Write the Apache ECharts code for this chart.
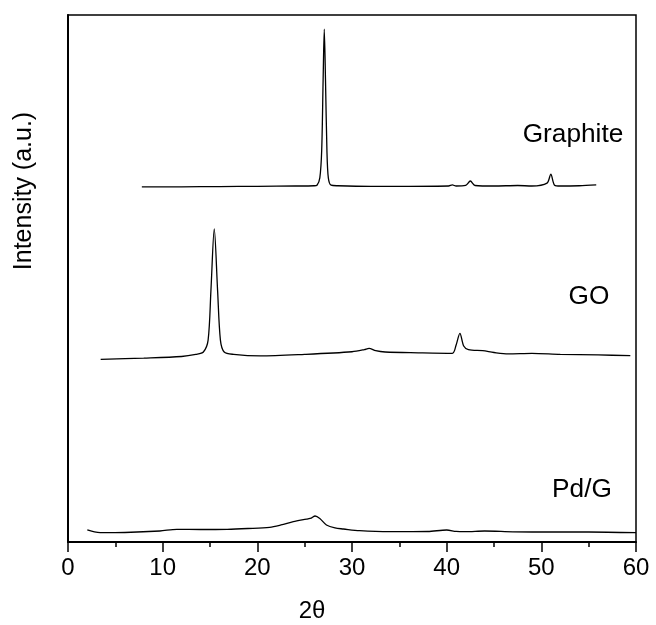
<!DOCTYPE html>
<html>
<head>
<meta charset="utf-8">
<script src="https://cdn.jsdelivr.net/npm/echarts@6/dist/echarts.min.js"></script>
<style>html,body{margin:0;padding:0;background:#fff;}#c{width:656px;height:625px;}</style>
</head>
<body>
<div id="c"></div>
<script>
// X axis ticks
var xTicks = [0, 10, 20, 30, 40, 50, 60];

// Graphite pattern (2θ, relative intensity)
var graphiteX = [7.8, 12, 16, 20, 24, 26.0, 26.3, 26.6, 26.8, 26.95, 27.07, 27.2, 27.35, 27.5, 27.8, 28.5, 32, 36, 40.2, 40.6, 41.0, 42.0, 42.5, 43.0, 45, 47.5, 49, 50.6, 51.0, 51.4, 52, 54, 55.8];
var graphiteY = [67.4, 67.4, 67.45, 67.5, 67.55, 67.6, 67.7, 69.1, 74.4, 87.7, 97.3, 87.7, 74.4, 69.1, 67.7, 67.6, 67.5, 67.5, 67.55, 67.75, 67.55, 67.65, 68.5, 67.65, 67.55, 67.65, 67.55, 68.1, 69.8, 67.7, 67.55, 67.6, 67.75];

// GO pattern
var goX = [3.45, 8, 12, 13.5, 14.3, 14.8, 15.1, 15.45, 15.8, 16.1, 16.5, 17.5, 20.3, 25, 30, 31.3, 31.8, 32.5, 33.5, 37, 40.6, 41.0, 41.4, 41.8, 42.3, 43.8, 45, 46.5, 49, 52, 56, 59.4];
var goY = [34.67, 34.9, 35.2, 35.6, 36.05, 38.3, 47.8, 59.4, 47.8, 38.3, 36.05, 35.6, 35.3, 35.6, 36.1, 36.5, 36.75, 36.3, 36.05, 35.9, 35.8, 37.4, 39.6, 37.2, 36.5, 36.3, 35.96, 35.7, 35.8, 35.6, 35.5, 35.35];

// Pd/G pattern
var pdgX = [2.04, 2.8, 3.4, 6, 9.7, 11.5, 14, 16.8, 19, 21.3, 22.5, 23.8, 25.2, 25.7, 26.1, 26.6, 27.3, 28.2, 29.1, 30.8, 34, 38, 40, 41, 42, 44, 47, 50, 55, 60];
var pdgY = [2.28, 1.9, 1.76, 1.8, 2.09, 2.41, 2.37, 2.41, 2.56, 2.79, 3.23, 3.85, 4.36, 4.55, 4.93, 4.46, 3.23, 2.66, 2.47, 2.14, 1.95, 1.99, 2.28, 2.0, 1.95, 2.09, 1.93, 1.9, 1.9, 1.76];

function pairs(xs, ys) { return xs.map(function (x, i) { return [x, ys[i]]; }); }

var FONT = '"Liberation Sans", Arial, sans-serif';
var chart = echarts.init(document.getElementById('c'), null, { renderer: 'canvas' });

var lineStyle = { color: '#000', width: 1.3 };
var option = {
  animation: false,
  backgroundColor: '#fff',
  grid: { left: 68, right: 20, top: 15, bottom: 83, show: true, borderColor: '#000', borderWidth: 1.5 },
  xAxis: {
    type: 'value', min: xTicks[0], max: xTicks[xTicks.length - 1], interval: 10,
    axisLine: { lineStyle: { color: '#000', width: 1.8 } },
    axisTick: { inside: false, length: 10, lineStyle: { color: '#000', width: 1.5 } },
    minorTick: { show: true, splitNumber: 2, length: 5, lineStyle: { color: '#000', width: 1.5 } },
    axisLabel: { color: '#000', fontSize: 24, fontFamily: FONT, margin: 14 },
    splitLine: { show: false }
  },
  yAxis: {
    type: 'value', min: 0, max: 100,
    axisLine: { show: true, lineStyle: { color: '#000', width: 2 } },
    axisTick: { show: false }, axisLabel: { show: false }, splitLine: { show: false }
  },
  series: [
    { name: 'Graphite', type: 'line', data: pairs(graphiteX, graphiteY), showSymbol: false, smooth: 0.3, lineStyle: lineStyle },
    { name: 'GO', type: 'line', data: pairs(goX, goY), showSymbol: false, smooth: 0.3, lineStyle: lineStyle },
    { name: 'Pd/G', type: 'line', data: pairs(pdgX, pdgY), showSymbol: false, smooth: 0.3, lineStyle: lineStyle }
  ],
  graphic: [
    { type: 'text', x: 573, y: 135, scaleX: 1.05, style: { text: 'Graphite', fontSize: 25, fontFamily: FONT, fill: '#000', align: 'center', verticalAlign: 'middle' } },
    { type: 'text', x: 589, y: 297, scaleX: 1.05, style: { text: 'GO', fontSize: 25, fontFamily: FONT, fill: '#000', align: 'center', verticalAlign: 'middle' } },
    { type: 'text', x: 582, y: 490, scaleX: 1.05, style: { text: 'Pd/G', fontSize: 25, fontFamily: FONT, fill: '#000', align: 'center', verticalAlign: 'middle' } },
    { type: 'text', x: 24, y: 191, rotation: Math.PI / 2, style: { text: 'Intensity (a.u.)', fontSize: 25, fontFamily: FONT, fill: '#000', align: 'center', verticalAlign: 'middle' } },
    { type: 'text', x: 312, y: 611, style: { text: '2θ', fontSize: 24, fontFamily: FONT, fill: '#000', align: 'center', verticalAlign: 'middle' } }
  ]
};
chart.setOption(option);
</script>
</body>
</html>
